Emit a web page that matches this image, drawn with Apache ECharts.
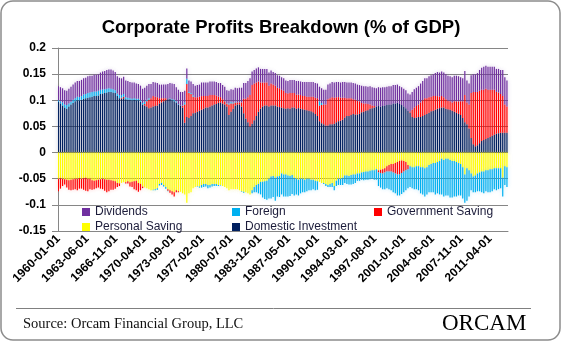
<!DOCTYPE html>
<html><head><meta charset="utf-8">
<script src="https://cdn.jsdelivr.net/npm/echarts/dist/echarts.min.js"></script>
<style>html,body{margin:0;padding:0;background:#fff}#c{width:562px;height:342px}</style>
</head><body><div id="c"></div><script>
// Axis: monthly date categories 1960-01 .. 2013-05, quarterly data (first month of each quarter)
const firstYear = 1960, lastYear = 2013, lastMonth = 5;
const labelEveryMonths = 41;
const chartTitle = 'Corporate Profits Breakdown (% of GDP)';
const sourceText = 'Source: Orcam Financial Group, LLC';
const yMin = -0.15, yMax = 0.2, yStep = 0.05;

// Values in thousandths of GDP, quarterly 1960Q1 .. 2013Q2
const domesticInvestment = [
97,94,90,86, 84,88,92,95, 98,100,100,101, 103,104,105,106, 107,108,108,109,
112,113,114,115, 116,116,115,114, 108,104,103,104, 102,101,101,100, 101,100,100,97,
92,90,88,85, 86,88,89,90, 94,96,98,100, 102,103,100,98, 96,92,90,86,
57,68,66,70, 75,76,78,80, 82,84,86,86, 88,90,92,93, 95,96,94,92,
88,72,78,84, 90,92,92,88, 75,65,58,50, 55,62,70,78, 84,88,90,90,
88,90,90,90, 88,87,86,85, 84,85,84,86, 86,84,85,84, 83,82,81,80,
79,77,74,70, 60,56,54,52, 52,54,54,55, 58,60,61,63, 67,70,70,72,
74,73,73,74, 77,78,80,81, 84,85,86,88, 89,88,89,90, 91,92,92,94,
94,95,93,91, 88,85,80,76, 68,66,67,68, 68,70,72,74, 76,79,80,82,
84,85,86,86, 84,83,82,80, 78,76,74,72, 66,58,54,46, 28,16,12,14,
18,22,24,26, 28,30,32,34, 36,37,38,38, 38,38];
const personalSaving = [
-50,-49,-50,-51, -52,-53,-52,-51, -50,-50,-49,-50, -49,-48,-50,-50, -53,-54,-53,-52,
-51,-50,-51,-52, -52,-53,-54,-55, -58,-59,-58,-57, -57,-55,-57,-56, -55,-54,-58,-60,
-65,-67,-68,-70, -72,-71,-70,-68, -60,-58,-62,-66, -70,-72,-74,-76, -72,-74,-75,-78,
-80,-96,-78,-76, -68,-66,-64,-65, -62,-60,-60,-62, -62,-60,-60,-60, -62,-62,-64,-66,
-68,-72,-70,-70, -70,-70,-72,-74, -75,-76,-78,-80, -72,-66,-62,-60, -56,-56,-55,-54,
-50,-46,-45,-48, -46,-45,-40,-42, -42,-44,-45,-43, -48,-50,-52,-50, -50,-52,-50,-50,
-52,-52,-54,-55, -56,-58,-58,-60, -62,-60,-58,-64, -54,-50,-50,-48, -44,-44,-45,-43,
-42,-42,-40,-40, -38,-37,-36,-36, -35,-34,-34,-32, -34,-33,-32,-30, -26,-24,-22,-22,
-20,-18,-16,-15, -16,-18,-24,-26, -28,-28,-26,-26, -28,-28,-30,-28, -24,-22,-20,-20,
-18,-16,-12,-14, -12,-12,-14,-16, -16,-18,-20,-22, -28,-42,-30,-34, -40,-46,-44,-40,
-38,-36,-36,-34, -34,-32,-32,-30, -30,-30,-30,-48, -26,-28];
const governmentSaving = [
-24,-20,-14,-10, -15,-18,-20,-20, -20,-22,-20,-19, -22,-25,-24,-20, -18,-16,-15,-15,
-18,-20,-22,-24, -22,-18,-17,-14, -8,-5,2,3, -2,-4,-8,-10, -15,-18,-17,-12,
-3,3,10,16, 18,20,18,16, 10,8,6,4, -3,-5,-6,-8, -4,-2,0,3,
35,63,48,42, 32,30,28,27, 26,24,22,22, 22,20,18,16, 12,10,8,6,
6,20,16,10, 6,4,4,8, 28,38,48,60, 74,70,64,58, 50,46,44,44,
40,42,40,38, 36,36,34,33, 30,28,30,28, 28,27,26,26, 25,26,26,27,
28,30,31,34, 30,35,38,40, 50,50,52,50, 48,46,44,42, 38,34,34,32,
28,28,26,24, 18,16,14,12, 8,5,3,0, -4,-6,-8,-8, -10,-12,-14,-16,
-20,-24,-26,-24, -20,-16,-8,2, 14,20,22,24, 28,30,32,30, 30,28,28,26,
24,22,22,20, 18,16,16,16, 20,22,24,26, 32,52,42,46, 86,100,104,102,
100,98,96,96, 92,90,88,86, 80,78,74,70, 54,50];
const foreign = [
3,4,6,6, 7,6,5,6, 6,7,6,7, 8,8,9,9, 9,9,9,9,
8,8,7,7, 7,6,6,5, 5,6,5,5, 4,4,3,3, 3,3,3,3,
3,4,3,3, 0,-1,-2,-3, -3,-4,-3,-3, -1,1,2,3, 2,1,0,1,
4,10,2,2, 2,0,-1,-2, -5,-6,-5,-6, -5,-5,-4,-4, -2,-1,0,1,
1,2,3,2, 1,0,0,-1, -2,0,0,0, -6,-10,-14,-18, -24,-30,-34,-36,
-38,-42,-40,-44, -38,-40,-40,-42, -42,-40,-38,-36, -34,-30,-30,-28, -26,-24,-24,-22,
-20,-18,-18,-16, 8,4,-2,-4, -4,-6,-8,-8, -10,-12,-12,-14, -14,-16,-16,-18,
-18,-16,-14,-14, -14,-16,-16,-16, -16,-16,-18,-20, -26,-28,-30,-32, -32,-34,-36,-38,
-38,-40,-40,-40, -40,-38,-36,-40, -40,-42,-44,-46, -50,-52,-54,-52, -52,-54,-56,-60,
-60,-64,-68,-70, -70,-70,-72,-70, -68,-66,-62,-60, -60,-54,-62,-50, -32,-30,-32,-34,
-36,-40,-42,-40, -42,-44,-42,-40, -42,-40,-38,-36, -36,-38];
const dividends = [
27,27,27,27, 27,28,29,29, 30,30,31,31, 31,31,32,32, 31,32,32,32,
33,34,35,36, 36,37,36,35, 33,33,32,33, 32,32,31,31, 30,29,28,28,
27,27,27,27, 27,27,27,27, 26,26,26,26, 29,29,30,30, 27,27,26,26,
22,20,22,22, 22,22,23,23, 26,26,26,26, 26,26,26,26, 26,27,27,27,
24,24,24,24, 27,27,28,28, 30,30,31,32, 26,26,27,27, 26,26,26,26,
25,25,24,24, 24,24,24,24, 24,24,25,25, 25,26,26,26, 27,27,28,28,
28,28,28,28, 28,28,28,28, 28,28,29,29, 29,29,29,30, 30,30,30,30,
31,31,31,31, 33,33,33,33, 35,35,35,35, 36,36,36,35, 35,35,35,35,
35,35,34,34, 34,34,33,33, 34,35,35,35, 36,37,38,38, 40,41,42,44,
46,46,47,47, 48,48,48,48, 49,49,48,46, 44,46,42,40, 34,34,34,36,
40,42,44,44, 44,44,44,44, 44,45,46,50, 52,50];

const categories = [];
for (let y = firstYear; y <= lastYear; y++) {
  for (let m = 1; m <= 12; m++) {
    if (y === lastYear && m > lastMonth) break;
    categories.push(y + '-' + String(m).padStart(2, '0') + '-01');
  }
}

function mk(name, color, glow, vals) {
  const data = categories.map(() => '-');
  vals.forEach((v, i) => { data[i * 3] = v / 1000; });
  return {
    name, type: 'bar', stack: 'total', barWidth: 1.2, data,
    itemStyle: { color, shadowBlur: 4, shadowColor: glow },
    emphasis: { disabled: true }, silent: true
  };
}

const chart = echarts.init(document.getElementById('c'), null, { renderer: 'canvas' });
const legendBase = {
  icon: 'rect', itemWidth: 8, itemHeight: 8, padding: 0, itemGap: 4,
  textStyle: { fontSize: 12, color: '#1c1c3a', fontFamily: 'Liberation Sans' },
  itemStyle: { shadowBlur: 0 }, selectedMode: false
};
chart.setOption({
  animation: false,
  backgroundColor: '#fff',
  title: {
    text: chartTitle, left: 'center', top: 13,
    textStyle: { fontSize: 18.5, fontWeight: 'bold', color: '#000', fontFamily: 'Liberation Sans' }
  },
  grid: { left: 58, right: 54, top: 48, bottom: 111 },
  legend: [
    Object.assign({ data: ['Dividends'], left: 82, top: 206 }, legendBase),
    Object.assign({ data: ['Foreign'], left: 232, top: 206 }, legendBase),
    Object.assign({ data: ['Government Saving'], left: 374, top: 206 }, legendBase),
    Object.assign({ data: ['Personal Saving'], left: 82, top: 221 }, legendBase),
    Object.assign({ data: ['Domestic Investment'], left: 232, top: 221 }, legendBase)
  ],
  xAxis: {
    type: 'category', data: categories, boundaryGap: true,
    axisLine: { onZero: false, lineStyle: { color: '#868686' } },
    axisTick: { show: false },
    axisLabel: {
      interval: labelEveryMonths - 1, rotate: 45, margin: 6,
      fontSize: 12, fontWeight: 'bold', color: '#000', fontFamily: 'Liberation Sans'
    },
    splitLine: { show: false }
  },
  yAxis: {
    type: 'value', min: yMin, max: yMax, interval: yStep,
    axisLine: { show: true, lineStyle: { color: '#868686' } },
    axisTick: { show: true, length: 6, lineStyle: { color: '#868686' } },
    axisLabel: { fontSize: 12, fontWeight: 'bold', color: '#000', margin: 12, fontFamily: 'Liberation Sans',
      formatter: v => String(Math.round(v * 100) / 100) },
    splitLine: { lineStyle: { color: '#868686', width: 1 } }
  },
  series: [
    mk('Domestic Investment', '#002060', 'rgba(0,32,96,0.3)', domesticInvestment),
    mk('Personal Saving', '#FFFF00', 'rgba(240,220,0,0.35)', personalSaving),
    mk('Government Saving', '#FF0000', 'rgba(255,0,0,0.25)', governmentSaving),
    mk('Foreign', '#00B0F0', 'rgba(0,176,240,0.3)', foreign),
    mk('Dividends', '#7030A0', 'rgba(112,48,160,0.25)', dividends)
  ],
  graphic: [
    { type: 'rect', shape: { x: 1, y: 1, width: 559, height: 339, r: 12 }, style: { fill: 'none', stroke: '#8c8c8c', lineWidth: 1.5 }, silent: true, z: 100 },
    { type: 'line', shape: { x1: 16, y1: 308.5, x2: 531, y2: 308.5 }, style: { stroke: '#808080', lineWidth: 1 }, silent: true },
    { type: 'text', left: 23, top: 317, style: { text: sourceText, font: '14.5px "Liberation Serif"', fill: '#111' }, silent: true },
    { type: 'text', left: 442, top: 312, style: { text: 'ORCAM', font: '23px "Liberation Serif"',
      fill: new echarts.graphic.LinearGradient(0, 0, 0, 1, [{ offset: 0, color: '#7f9cc0' }, { offset: 1, color: '#2f4f7f' }]) }, silent: true },
    { type: 'text', x: 442, y: 352, scaleY: -0.5, style: { text: 'ORCAM', font: '23px "Liberation Serif"', fill: '#9fb3cc', opacity: 0.35 }, silent: true }
  ]
});
</script></body></html>
